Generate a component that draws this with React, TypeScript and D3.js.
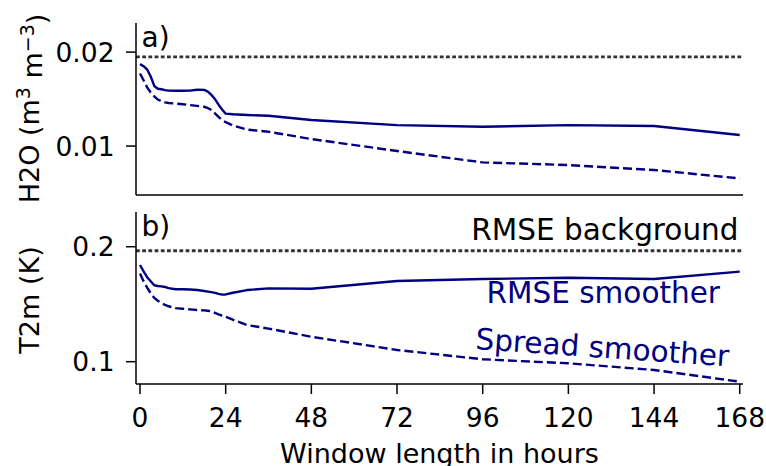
import React from "react";
import * as d3 from "d3";

const hours = [0,1,2,3,4,5,6,7,8,10,12,14,16,18,19,20,21,22,23,24,26,30,36,48,72,96,120,144,168];

const h2oRmse = [0.01872,0.01850,0.01815,0.01740,0.01640,0.01610,0.01605,0.01595,0.01590,0.01588,0.01588,0.01590,0.01600,0.01598,0.01580,0.01545,0.01500,0.01440,0.01390,0.01345,0.01338,0.01330,0.01322,0.01277,0.01223,0.01205,0.01223,0.01213,0.01117];
const h2oSpread = [0.01773,0.01700,0.01625,0.01570,0.01530,0.01495,0.01478,0.01465,0.01458,0.01452,0.01445,0.01436,0.01428,0.01418,0.01405,0.01385,0.01348,0.01310,0.01275,0.01255,0.01220,0.01175,0.01152,0.01075,0.00947,0.00826,0.00798,0.00745,0.00656];
const t2mRmse = [0.1841,0.1785,0.1735,0.1700,0.1665,0.1658,0.1655,0.1650,0.1640,0.1630,0.1630,0.1628,0.1624,0.1615,0.1610,0.1605,0.1598,0.1590,0.1583,0.1585,0.1600,0.1623,0.1638,0.1635,0.1702,0.1719,0.1730,0.1719,0.1783];
const t2mSpread = [0.1768,0.1700,0.1645,0.1595,0.1555,0.1530,0.1510,0.1495,0.1482,0.1466,0.1460,0.1455,0.1450,0.1446,0.1443,0.1438,0.1425,0.1412,0.1400,0.1390,0.1365,0.1319,0.1288,0.1217,0.1102,0.1021,0.0986,0.0928,0.0826];

const h2oBackground = 0.0195;
const t2mBackground = 0.1965;

const xTicks = [0,24,48,72,96,120,144,168];
const h2oTicks = [0.01, 0.02];
const h2oTickLabels = ["0.01", "0.02"];
const t2mTicks = [0.1, 0.2];
const t2mTickLabels = ["0.1", "0.2"];

const FONT = "DejaVu Sans, sans-serif";
const NAVY = "#000080";

const X0 = 136, X1 = 743;
const x = d3.scaleLinear().domain([-1.12, 168.92]).range([X0, X1]);

type PanelProps = {
  top: number; bottom: number; domain: [number, number];
  rmse: number[]; spread: number[]; bg: number;
  ticks: number[]; tickLabels: string[]; label: string;
  showX: boolean;
};

function Panel({ top, bottom, domain, rmse, spread, bg, ticks, tickLabels, label, showX }: PanelProps) {
  const y = d3.scaleLinear().domain(domain).range([bottom, top]);
  const line = d3.line<number>().x((_, i) => x(hours[i])).y((d) => y(d)).curve(d3.curveLinear);
  return (
    <g>
      <line x1={X0} x2={X1} y1={y(bg)} y2={y(bg)} stroke="#333" strokeWidth={2.8} strokeDasharray="3.8,2.4" />
      <path d={line(rmse) || ""} fill="none" stroke={NAVY} strokeWidth={2.4} strokeLinejoin="round" />
      <path d={line(spread) || ""} fill="none" stroke={NAVY} strokeWidth={2.4} strokeDasharray="9,4" />
      <line x1={X0} x2={X0} y1={top} y2={bottom} stroke="#000" strokeWidth={1.5} />
      <line x1={X0} x2={X1} y1={bottom} y2={bottom} stroke="#000" strokeWidth={1.5} />
      {ticks.map((t, i) => (
        <g key={i}>
          <line x1={X0 - 10} x2={X0} y1={y(t)} y2={y(t)} stroke="#000" strokeWidth={1.5} />
          <text x={114.5} y={y(t)} dy="0.36em" textAnchor="end" fontSize={26.5} fontFamily={FONT}>{tickLabels[i]}</text>
        </g>
      ))}
      {showX && xTicks.map((t) => (
        <g key={t}>
          <line x1={x(t)} x2={x(t)} y1={bottom} y2={bottom + 10} stroke="#000" strokeWidth={1.5} />
          <text x={x(t)} y={427} textAnchor="middle" fontSize={26.5} fontFamily={FONT}>{t}</text>
        </g>
      ))}
      <text x={141.5} y={top + 24} fontSize={28} fontFamily={FONT}>{label}</text>
    </g>
  );
}

export default function App() {
  return (
    <svg width={766} height={466} style={{ position: "absolute", left: 0, top: 0, background: "#fff" }}>
      <rect width={766} height={466} fill="#fff" />
      <Panel top={23} bottom={195} domain={[0.00479, 0.0231]} rmse={h2oRmse} spread={h2oSpread} bg={h2oBackground}
        ticks={h2oTicks} tickLabels={h2oTickLabels} label="a)" showX={false} />
      <Panel top={212} bottom={384} domain={[0.0806, 0.2302]} rmse={t2mRmse} spread={t2mSpread} bg={t2mBackground}
        ticks={t2mTicks} tickLabels={t2mTickLabels} label="b)" showX={true} />
      <text transform="translate(38.5,108.5) rotate(-90)" textAnchor="middle" fontSize={27} fontFamily={FONT}>
        H2O (m<tspan dy="-0.45em" fontSize={19}>3</tspan><tspan dy="0.45em"> m</tspan><tspan dy="-0.45em" fontSize={19}>−3</tspan><tspan dy="0.45em">)</tspan>
      </text>
      <text transform="translate(38.5,300) rotate(-90)" textAnchor="middle" fontSize={27} fontFamily={FONT}>T2m (K)</text>
      <text x={439.5} y={462.7} textAnchor="middle" fontSize={27} fontFamily={FONT}>Window length in hours</text>
      <text x={738.5} y={240} textAnchor="end" fontSize={29.5} fontFamily={FONT} fill="#000">RMSE background</text>
      <text x={720} y={303.3} textAnchor="end" fontSize={29.5} fontFamily={FONT} fill={NAVY}>RMSE smoother</text>
      <text transform="translate(475,349) rotate(3.9)" fontSize={29.5} fontFamily={FONT} fill={NAVY}>Spread smoother</text>
    </svg>
  );
}
